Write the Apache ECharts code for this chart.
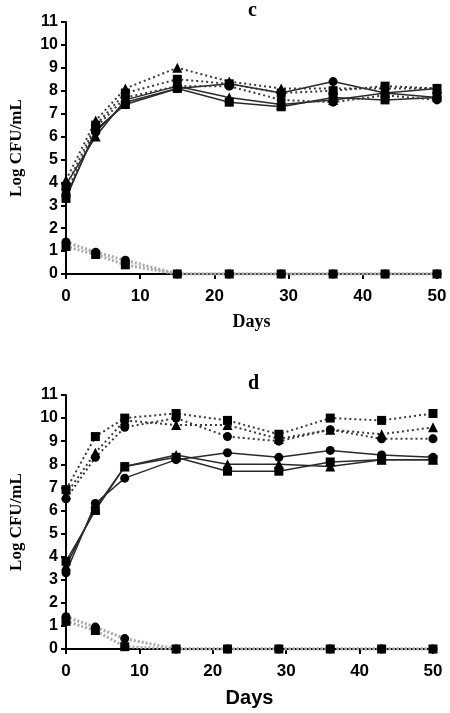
<!DOCTYPE html>
<html>
<head>
<meta charset="utf-8">
<script src="https://cdn.jsdelivr.net/npm/echarts@6/dist/echarts.min.js"></script>
<style>
  html, body { margin: 0; padding: 0; background: #fff; }
  #chart { width: 450px; height: 713px; }
</style>
</head>
<body>
<div id="chart"></div>
<script>
const days = [0, 4, 8, 15, 22, 29, 36, 43, 50]
const yTicks = [0, 1, 2, 3, 4, 5, 6, 7, 8, 9, 10, 11]
const xTicks = [0, 10, 20, 30, 40, 50]

// panel c
const cSolidCircle = [3.4, 6.2, 7.5, 8.1, 8.3, 7.9, 8.4, 7.9, 7.7]
const cSolidSquare = [3.3, 6.3, 7.4, 8.1, 7.5, 7.3, 7.7, 7.6, 7.7]
const cSolidTriangle = [3.9, 6.0, 7.6, 8.2, 7.7, 7.4, 7.6, 7.9, 8.1]
const cDotCircle = [3.5, 6.4, 7.7, 8.2, 8.2, 7.6, 7.5, 7.8, 7.6]
const cDotSquare = [3.8, 6.5, 7.9, 8.5, 8.3, 7.9, 8.0, 8.2, 8.1]
const cDotTriangle = [4.1, 6.7, 8.1, 9.0, 8.4, 8.1, 8.1, 8.1, 8.1]
const cLowCircle = [1.4, 0.95, 0.6, 0, 0, 0, 0, 0, 0]
const cLowSquare = [1.2, 0.85, 0.4, 0, 0, 0, 0, 0, 0]

// panel d
const dSolidCircle = [3.3, 6.3, 7.4, 8.2, 8.5, 8.3, 8.6, 8.4, 8.3]
const dSolidSquare = [3.8, 6.0, 7.9, 8.3, 7.7, 7.7, 8.1, 8.2, 8.2]
const dSolidTriangle = [3.6, 6.1, 7.9, 8.4, 8.0, 8.0, 7.9, 8.2, 8.2]
const dDotCircle = [6.5, 8.3, 9.6, 10.0, 9.2, 9.0, 9.5, 9.1, 9.1]
const dDotSquare = [6.9, 9.2, 10.0, 10.2, 9.9, 9.3, 10.0, 9.9, 10.2]
const dDotTriangle = [6.7, 8.5, 9.9, 9.7, 9.7, 9.1, 9.5, 9.3, 9.6]
const dLowCircle = [1.4, 0.95, 0.45, 0, 0, 0, 0, 0, 0]
const dLowSquare = [1.2, 0.8, 0.1, 0, 0, 0, 0, 0, 0]

const pairs = arr => days.map((d, i) => [d, arr[i]])

const mk = (data, idx, symbol, kind) => {
  let line
  if (kind === 'solid') line = {color: '#2a2a2a', width: 1.5, type: 'solid'}
  else if (kind === 'dot') line = {color: '#3a3a3a', width: 2, type: [2, 3]}
  else line = {color: '#aaa', width: 3, type: [2, 2]}
  return {
    type: 'line',
    xAxisIndex: idx,
    yAxisIndex: idx,
    data: pairs(data),
    symbol: symbol,
    symbolSize: symbol === 'triangle' ? 10 : 9,
    itemStyle: {color: '#000'},
    lineStyle: line,
    animation: false,
    z: kind === 'low' ? 1 : 3
  }
}

const xAxisBase = (idx, nameFont, nameSize, gap) => ({
  gridIndex: idx,
  type: 'value',
  min: 0, max: 50, interval: 10,
  name: 'Days',
  nameLocation: 'middle',
  nameGap: gap,
  nameTextStyle: {fontFamily: nameFont, fontWeight: 'bold', fontSize: nameSize, color: '#000'},
  axisLine: {show: true, onZero: false, lineStyle: {color: '#000', width: 2}},
  axisTick: {show: true, length: 5, lineStyle: {color: '#000', width: 2}},
  axisLabel: {margin: 14, fontFamily: 'Liberation Sans', fontWeight: 'bold', fontSize: 17, color: '#000'},
  splitLine: {show: false}
})

const yAxisBase = idx => ({
  gridIndex: idx,
  type: 'value',
  min: 0, max: 11, interval: 1,
  name: 'Log CFU/mL',
  nameLocation: 'middle',
  nameGap: 41,
  nameTextStyle: {fontFamily: 'Liberation Serif', fontWeight: 'bold', fontSize: 17, color: '#000'},
  axisLine: {show: true, lineStyle: {color: '#000', width: 2}},
  axisTick: {show: true, length: 5, lineStyle: {color: '#000', width: 2}},
  axisLabel: {margin: 8, fontFamily: 'Liberation Sans', fontWeight: 'bold', fontSize: 16, color: '#000'},
  splitLine: {show: false}
})

const chart = echarts.init(document.getElementById('chart'))
chart.setOption({
  backgroundColor: '#fff',
  title: [
    {text: 'c', left: 243, top: -4, textStyle: {fontFamily: 'Liberation Serif', fontWeight: 'bold', fontSize: 20, color: '#000'}},
    {text: 'd', left: 243, top: 369, textStyle: {fontFamily: 'Liberation Serif', fontWeight: 'bold', fontSize: 20, color: '#000'}}
  ],
  grid: [
    {left: 64, right: 13, top: 22, height: 252},
    {left: 63, right: 17, top: 395, height: 254}
  ],
  xAxis: [xAxisBase(0, 'Liberation Serif', 18, 39), xAxisBase(1, 'Liberation Sans', 20, 39)],
  yAxis: [yAxisBase(0), yAxisBase(1)],
  series: [
    mk(cLowCircle, 0, 'circle', 'low'),
    mk(cLowSquare, 0, 'rect', 'low'),
    mk(cSolidCircle, 0, 'circle', 'solid'),
    mk(cSolidSquare, 0, 'rect', 'solid'),
    mk(cSolidTriangle, 0, 'triangle', 'solid'),
    mk(cDotCircle, 0, 'circle', 'dot'),
    mk(cDotSquare, 0, 'rect', 'dot'),
    mk(cDotTriangle, 0, 'triangle', 'dot'),
    mk(dLowCircle, 1, 'circle', 'low'),
    mk(dLowSquare, 1, 'rect', 'low'),
    mk(dSolidCircle, 1, 'circle', 'solid'),
    mk(dSolidSquare, 1, 'rect', 'solid'),
    mk(dSolidTriangle, 1, 'triangle', 'solid'),
    mk(dDotCircle, 1, 'circle', 'dot'),
    mk(dDotSquare, 1, 'rect', 'dot'),
    mk(dDotTriangle, 1, 'triangle', 'dot')
  ]
})
</script>
</body>
</html>
